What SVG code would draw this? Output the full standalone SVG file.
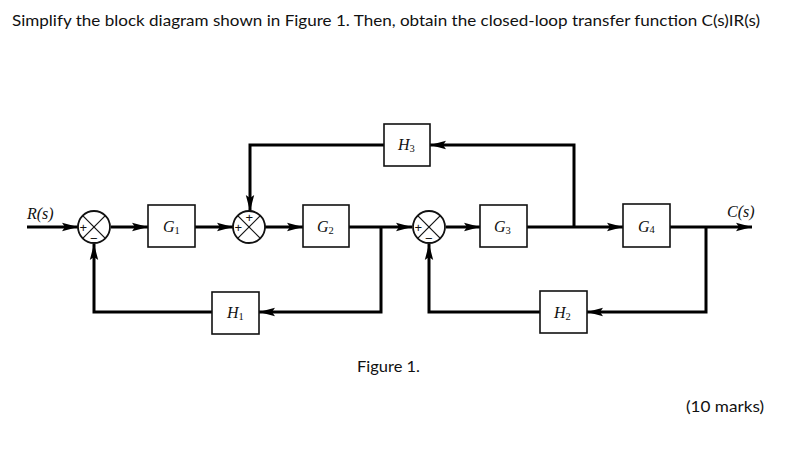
<svg xmlns="http://www.w3.org/2000/svg" width="797" height="458" viewBox="0 0 797 458">
<defs>
<marker id="ah" markerUnits="userSpaceOnUse" markerWidth="16" markerHeight="10" viewBox="0 0 16 10" refX="16" refY="5" orient="auto">
<path d="M0,0.8 L16,5 L0,9.2 L3,5 Z" fill="#000"/>
</marker>
</defs>
<style>
.txt{font-family:Lato,"Open Sans","Liberation Sans",sans-serif;fill:#111}
.lbl{font-family:"Liberation Serif","Times New Roman",serif;font-style:italic;font-size:16px;fill:#111}
.sub{font-size:10.5px;font-style:normal}
.box{fill:#fff;stroke:#111;stroke-width:1.6}
.sum{fill:#fff;stroke:#111;stroke-width:1.8}
.x{stroke:#111;stroke-width:1.2}
.sign{font-family:"Liberation Sans",sans-serif;font-size:13px;fill:#111}
.w{fill:none;stroke:#000;stroke-width:3}
.wa{fill:none;stroke:#000;stroke-width:3;marker-end:url(#ah)}
</style>
<rect width="797" height="458" fill="#fff"/>
<text class="txt" x="12" y="26" font-size="16" textLength="748" lengthAdjust="spacingAndGlyphs">Simplify the block diagram shown in Figure 1. Then, obtain the closed-loop transfer function C(s)IR(s)</text>

<g id="connectors">
<line class="wa" x1="27" y1="227" x2="78" y2="227"/>
<line class="wa" x1="111" y1="227" x2="148" y2="227"/>
<line class="wa" x1="195" y1="227" x2="233" y2="227"/>
<line class="wa" x1="265" y1="227" x2="303" y2="227"/>
<line class="wa" x1="349" y1="227" x2="412" y2="227"/>
<line class="wa" x1="446" y1="227" x2="480" y2="227"/>
<line class="wa" x1="527" y1="227" x2="623" y2="227"/>
<line class="wa" x1="670" y1="227" x2="752" y2="227"/>
<polyline class="wa" points="574,227 574,145 430,145"/>
<polyline class="wa" points="384,145 250,145 250,211"/>
<polyline class="wa" points="381,227 381,312 259,312"/>
<polyline class="wa" points="212,312 94,312 94,244"/>
<polyline class="wa" points="706,227 706,312 587,312"/>
<polyline class="wa" points="540,312 429,312 429,244"/>
</g>

<g id="sum1">
<circle class="sum" cx="94" cy="227" r="16"/>
<line class="x" x1="82.7" y1="215.7" x2="105.3" y2="238.3"/>
<line class="x" x1="105.3" y1="215.7" x2="82.7" y2="238.3"/>
<text class="sign" x="79.5" y="232">+</text>
<text class="sign" x="90" y="243">−</text>
</g>
<g id="sum2">
<circle class="sum" cx="249" cy="227" r="16"/>
<line class="x" x1="237.7" y1="215.7" x2="260.3" y2="238.3"/>
<line class="x" x1="260.3" y1="215.7" x2="237.7" y2="238.3"/>
<text class="sign" x="245.5" y="222">+</text>
<text class="sign" x="234.5" y="232">+</text>
</g>
<g id="sum3">
<circle class="sum" cx="429" cy="227" r="16"/>
<line class="x" x1="417.7" y1="215.7" x2="440.3" y2="238.3"/>
<line class="x" x1="440.3" y1="215.7" x2="417.7" y2="238.3"/>
<text class="sign" x="414.5" y="232">+</text>
<text class="sign" x="425" y="243">−</text>
</g>

<g id="G1"><rect class="box" x="148" y="205" width="47" height="42"/><text class="lbl" x="163" y="232">G<tspan class="sub" dy="2">1</tspan></text></g>
<g id="G2"><rect class="box" x="303" y="205" width="46" height="42"/><text class="lbl" x="317" y="232">G<tspan class="sub" dy="2">2</tspan></text></g>
<g id="G3"><rect class="box" x="480" y="205" width="47" height="42"/><text class="lbl" x="494" y="232">G<tspan class="sub" dy="2">3</tspan></text></g>
<g id="G4"><rect class="box" x="623" y="204" width="47" height="43"/><text class="lbl" x="638" y="232">G<tspan class="sub" dy="1">4</tspan></text></g>
<g id="H1"><rect class="box" x="212" y="292" width="47" height="42"/><text class="lbl" x="227" y="318">H<tspan class="sub" dy="2">1</tspan></text></g>
<g id="H2"><rect class="box" x="540" y="291" width="47" height="42"/><text class="lbl" x="554" y="318">H<tspan class="sub" dy="2">2</tspan></text></g>
<g id="H3"><rect class="box" x="384" y="124" width="46" height="42"/><text class="lbl" x="398" y="150">H<tspan class="sub" dy="2">3</tspan></text></g>

<text class="lbl" x="27" y="219">R(s)</text>
<text class="lbl" x="727" y="217">C(s)</text>
<text class="txt" x="357" y="372" font-size="16" textLength="63" lengthAdjust="spacingAndGlyphs">Figure 1.</text>
<text class="txt" x="686" y="412" font-size="16" textLength="78" lengthAdjust="spacingAndGlyphs">(10 marks)</text>
</svg>
